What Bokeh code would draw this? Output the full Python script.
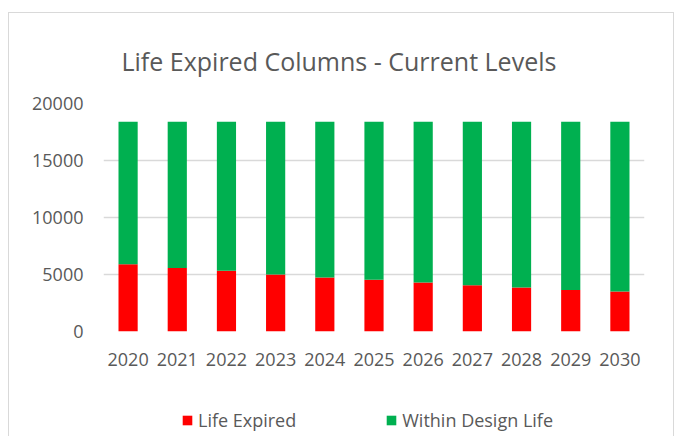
from bokeh.plotting import figure
from bokeh.layouts import column
from bokeh.models import Legend, LegendItem, FactorRange, Range1d, SingleIntervalTicker, BasicTickFormatter
from bokeh.embed import file_html
from bokeh.resources import INLINE

years = ["2020", "2021", "2022", "2023", "2024", "2025", "2026", "2027", "2028", "2029", "2030"]
life_expired = [5900, 5560, 5320, 5000, 4740, 4530, 4300, 4060, 3860, 3630, 3510]
total_columns = 18400
within_design = [total_columns - v for v in life_expired]

series = ["Life Expired", "Within Design Life"]
colors = ["#ff0000", "#00b050"]

FONT = "Open Sans"
TXT = "#595959"

data = {"years": years, "Life Expired": life_expired, "Within Design Life": within_design}

# ---- main chart ----
p = figure(x_range=FactorRange(*years), y_range=(0, 20000),
           width=664, height=368,
           output_backend="svg", toolbar_location=None,
           min_border_left=94, min_border_right=29, min_border_top=90, min_border_bottom=50,
           title="Life Expired Columns - Current Levels")

p.vbar_stack(series, x="years", width=0.39, color=colors, line_width=0, source=data)

p.title.align = "left"
p.title.offset = 18
p.title.text_font = FONT
p.title.text_font_size = "25px"
p.title.text_font_style = "normal"
p.title.text_color = TXT
p.title.standoff = 52

p.outline_line_color = None
p.xgrid.grid_line_color = None
p.ygrid.grid_line_color = "#d9d9d9"
p.ygrid.grid_line_width = 1.3
p.yaxis.ticker = SingleIntervalTicker(interval=5000)
p.yaxis.formatter = BasicTickFormatter(use_scientific=False)

for ax in (p.xaxis, p.yaxis):
    ax.axis_line_color = None
    ax.major_tick_line_color = None
    ax.minor_tick_line_color = None
    ax.major_tick_out = 0
    ax.major_tick_in = 0
    ax.major_label_text_font = FONT
    ax.major_label_text_font_size = "18px"
    ax.major_label_text_color = TXT
p.xaxis.major_label_standoff = 21
p.yaxis.major_label_standoff = 16
p.x_range.range_padding = 0
p.x_range.group_padding = 0

# ---- legend strip (same series; its renderers hidden, legend keeps full colour) ----
lg = figure(x_range=FactorRange(*years), y_range=Range1d(-2, -1),
            width=664, height=55, output_backend="svg", toolbar_location=None,
            x_axis_location=None, y_axis_location=None,
            min_border_left=0, min_border_right=0, min_border_top=0, min_border_bottom=0)
lg.outline_line_color = None
lg.grid.grid_line_color = None
lrs = lg.vbar_stack(series, x="years", width=0.39, color=colors, line_width=0, source=data)
for r in lrs:
    r.visible = False

legend = Legend(items=[LegendItem(label=s, renderers=[r]) for s, r in zip(series, lrs)],
                orientation="horizontal", location=(78, 4),
                label_text_font=FONT, label_text_font_size="18px", label_text_color=TXT,
                label_height=20, glyph_width=12, glyph_height=12, label_standoff=5, spacing=89,
                padding=0, margin=0, border_line_color=None, background_fill_alpha=0,
                inactive_fill_alpha=0)
lg.add_layout(legend, "center")

layout = column(p, lg, spacing=0)
layout.styles = {"margin-top": "12px", "margin-left": "8px",
                 "border-top": "1px solid #d9d9d9", "border-left": "1px solid #d9d9d9",
                 "border-right": "1px solid #d9d9d9"}

open("out.html", "w").write(file_html(layout, INLINE))
